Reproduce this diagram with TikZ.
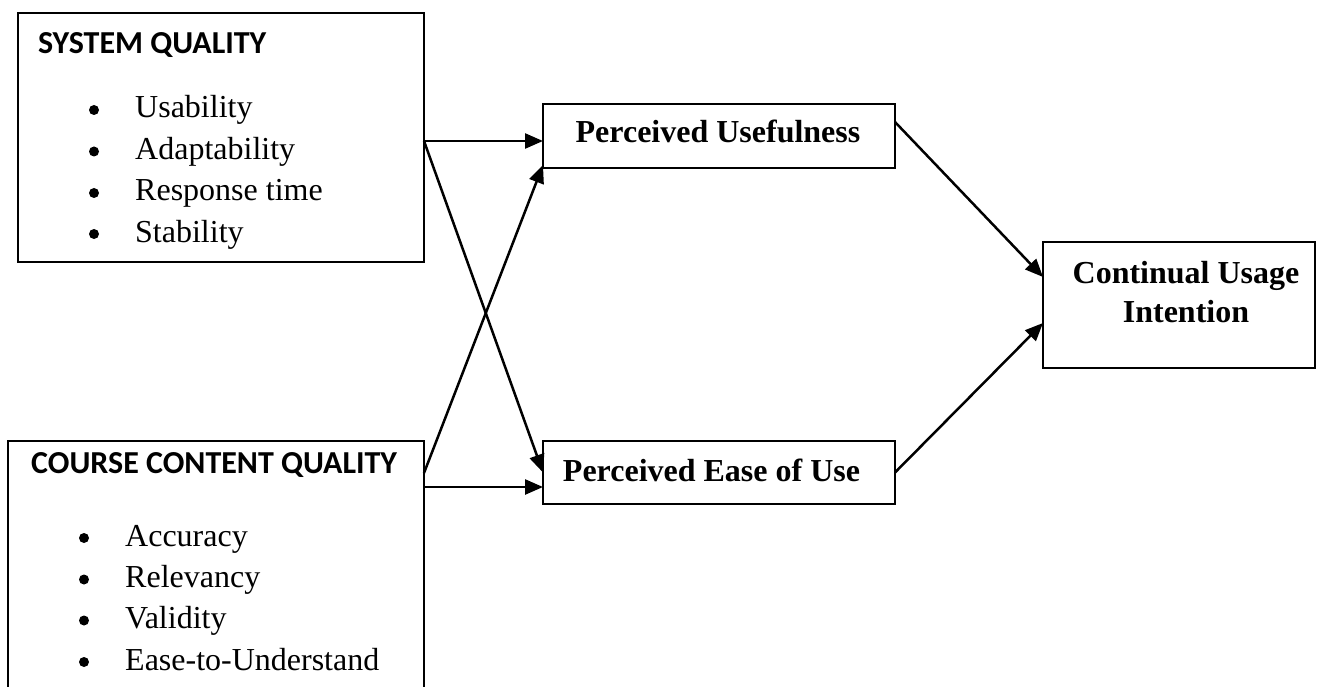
\documentclass[tikz,border=0pt]{standalone}
\usepackage{fontspec}
\setmainfont{Liberation Serif}
\newfontfamily\headfont{Carlito}
\usetikzlibrary{arrows.meta}
\begin{document}
\begin{tikzpicture}[x=1pt,y=-1pt,
  box/.style={draw,line width=2.4pt,inner sep=0pt,outer sep=0pt},
  conn/.style={line width=2.5pt,-{Triangle[length=18pt,width=15pt]}},
  head/.style={font=\headfont\bfseries\fontsize{32}{38}\selectfont,anchor=base west,inner sep=0pt},
  item/.style={font=\fontsize{32}{38}\selectfont,anchor=base west,inner sep=0pt},
  lab/.style={font=\bfseries\fontsize{32}{39}\selectfont,align=center,inner sep=0pt,anchor=base}]
\useasboundingbox (0,0) rectangle (1317,687);
\clip (0,0) rectangle (1317,687);
% boxes
\node[box,minimum width=406pt,minimum height=249pt] (sq) at (221,137.5) {};
\node[box,minimum width=416pt,minimum height=279pt] (ccq) at (216,580.5) {};
\node[box,minimum width=352pt,minimum height=64pt] (pu) at (719,136) {};
\node[box,minimum width=352pt,minimum height=63pt] (peu) at (719,472.5) {};
\node[box,minimum width=272pt,minimum height=126pt] (cui) at (1179,305) {};
% texts
\node[head] (sqt) at (38,54) {SYSTEM QUALITY};
\node[item] (sq1) at (135,118) {Usability};
\node[item] (sq2) at (135,159.5) {Adaptability};
\node[item] (sq3) at (135,201) {Response time};
\node[item] (sq4) at (135,242.5) {Stability};
\foreach \y in {110,151.5,193,234} \fill (94,\y) circle (5pt);
\node[head] (ccqt) at (31,473) {COURSE CONTENT QUALITY};
\node[item] (cc1) at (125,546) {Accuracy};
\node[item] (cc2) at (125,587.5) {Relevancy};
\node[item] (cc3) at (125,628.5) {Validity};
\node[item] (cc4) at (125,670) {Ease-to-Understand};
\foreach \y in {538,579.5,620.5,662} \fill (84,\y) circle (5pt);
\node[lab] (put) at (718,143) {Perceived Usefulness};
\node[lab] (peut) at (711.5,481) {Perceived Ease of Use};
\node[lab] (cuit) at (1186,322) {Continual Usage\\Intention};
% connectors
\draw[conn] ([yshift=-3.5pt]sq.east) -- ([yshift=-3.5pt]sq.east -| pu.west);
\draw[conn] ([yshift=-3.5pt]sq.east) -- (peu.west);
\draw[conn] ([yshift=-32pt]ccq.north east) -- ([yshift=3pt]pu.south west);
\draw[conn] ([yshift=-46pt]ccq.north east) -- ([yshift=-46pt]ccq.north east -| peu.west);
\draw[conn] ([yshift=-18pt]pu.north east) -- ([yshift=-35pt]cui.north west);
\draw[conn] (peu.east) -- ([yshift=-81pt]cui.north west);
\end{tikzpicture}
\end{document}
